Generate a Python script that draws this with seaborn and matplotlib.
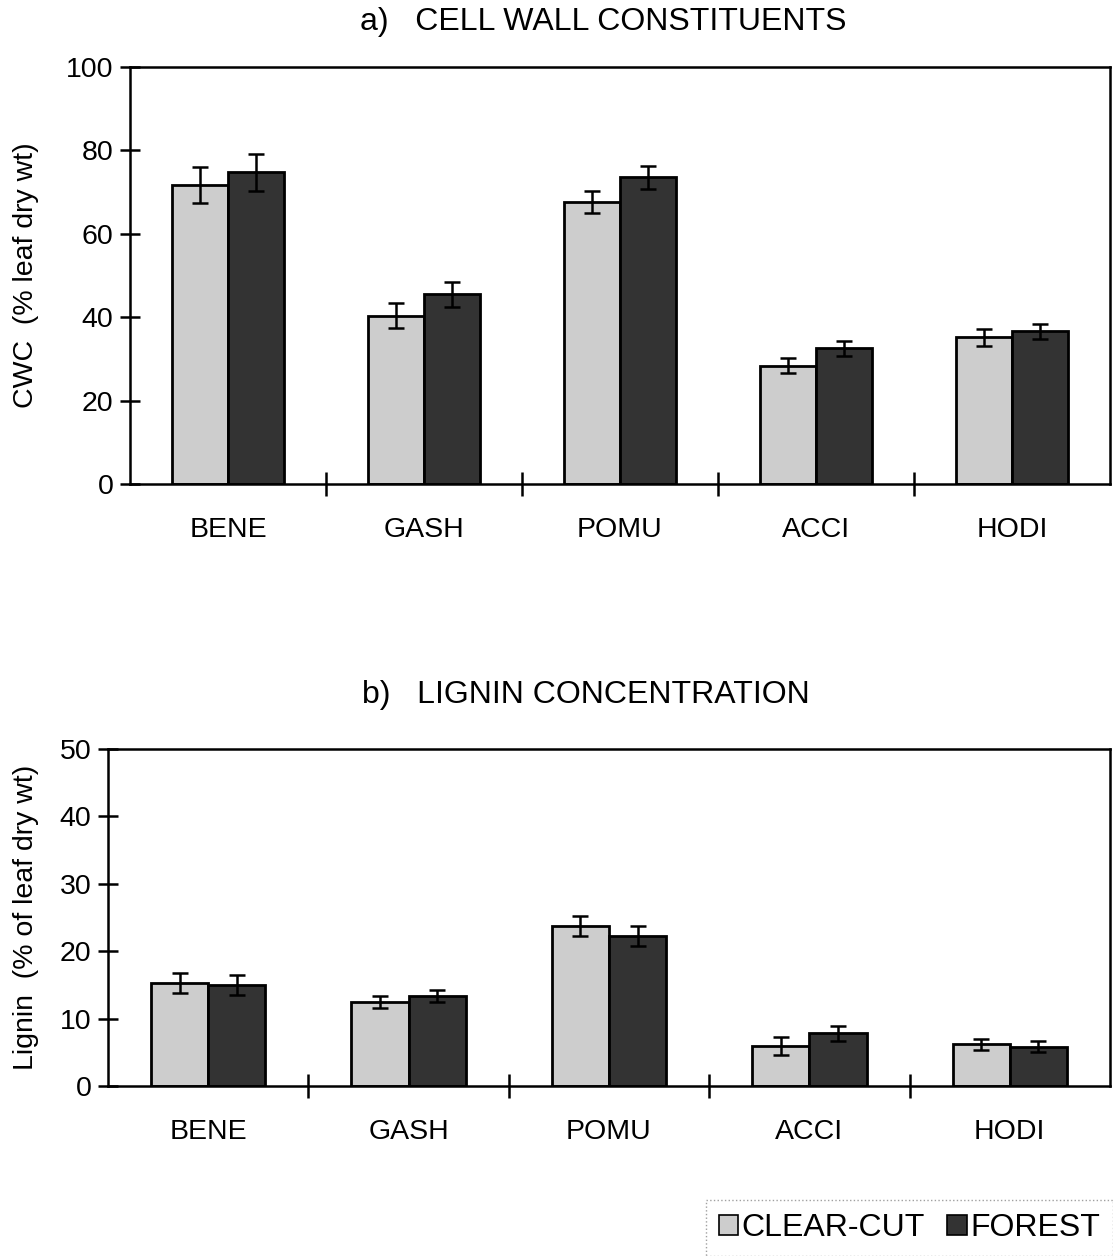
import numpy as np
import pandas as pd
import matplotlib
matplotlib.use("Agg")
import matplotlib.pyplot as plt
import seaborn as sns

# species and treatments
species = ["BENE", "GASH", "POMU", "ACCI", "HODI"]
sites = ["CLEAR-CUT", "FOREST"]

# a) cell wall constituents (% leaf dry wt)
cwc_clear = [71.7, 40.3, 67.6, 28.4, 35.2]
cwc_forest = [74.7, 45.5, 73.5, 32.5, 36.6]
cwc_clear_err = [4.4, 3.0, 2.6, 1.8, 2.0]
cwc_forest_err = [4.4, 3.0, 2.8, 1.9, 1.8]

# b) lignin concentration (% of leaf dry wt)
lig_clear = [15.3, 12.4, 23.7, 5.9, 6.2]
lig_forest = [15.0, 13.3, 22.2, 7.8, 5.8]
lig_clear_err = [1.5, 0.9, 1.5, 1.3, 0.8]
lig_forest_err = [1.5, 0.9, 1.5, 1.1, 0.8]

sns.set_style("white")
plt.rcParams["font.family"] = ["Liberation Sans", "DejaVu Sans"]
plt.rcParams["text.color"] = "black"
plt.rcParams["axes.labelcolor"] = "black"
plt.rcParams["xtick.color"] = "black"
plt.rcParams["ytick.color"] = "black"

light = "#cdcdcd"
dark = "#333333"
fs = 20.5

fig = plt.figure(figsize=(11.13, 12.56), dpi=100)


def panel(rect, clear, forest, clear_err, forest_err, ylim, ystep, ylabel, labx, show_legend=False):
    ax = fig.add_axes(rect)
    df = pd.DataFrame({
        "species": species * 2,
        "site": [sites[0]] * 5 + [sites[1]] * 5,
        "value": clear + forest,
    })
    sns.barplot(data=df, x="species", y="value", hue="site", order=species,
                hue_order=sites, palette=[light, dark], edgecolor="black",
                linewidth=2, width=0.57, errorbar=None, legend=show_legend, ax=ax)
    # error bars from the drawn bars
    for cont, errs in zip(ax.containers, [clear_err, forest_err]):
        xs = [b.get_x() + b.get_width() / 2 for b in cont]
        hs = [b.get_height() for b in cont]
        ax.errorbar(xs, hs, yerr=errs, fmt="none", ecolor="black",
                    elinewidth=1.8, capsize=5.5, capthick=1.8, zorder=5)
    ax.set_xlim(-0.5, 4.5)
    ax.set_ylim(*ylim)
    ax.set_yticks(np.arange(ylim[0], ylim[1] + 0.1, ystep))
    ax.set_xticks(range(5))
    ax.set_xticklabels(species)
    ax.set_xticks([0.5, 1.5, 2.5, 3.5], minor=True)
    ax.tick_params(axis="x", which="major", bottom=True, length=0, pad=24, labelsize=fs)
    ax.tick_params(axis="x", which="minor", bottom=True, direction="inout", length=17, width=1.8)
    ax.tick_params(axis="y", left=True, direction="inout", length=14, width=1.8, pad=5, labelsize=fs)
    ax.set_xlabel("")
    ax.set_ylabel(ylabel, fontsize=fs)
    ax.yaxis.set_label_coords(labx, 0.5)
    for sp in ax.spines.values():
        sp.set_visible(True)
        sp.set_color("black")
        sp.set_linewidth(1.8)
    return ax


ax1 = panel([0.1168, 0.6146, 0.8805, 0.3321], cwc_clear, cwc_forest,
            cwc_clear_err, cwc_forest_err, (0, 100), 20, "CWC  (% leaf dry wt)", -0.093)
ax2 = panel([0.0970, 0.1354, 0.9003, 0.2683], lig_clear, lig_forest,
            lig_clear_err, lig_forest_err, (0, 50), 10, "Lignin  (% of leaf dry wt)", -0.069,
            show_legend=True)

fig.text(603 / 1113, 1 - 22 / 1256, "a)   CELL WALL CONSTITUENTS", ha="center", va="center", fontsize=23)
fig.text(586 / 1113, 1 - 695 / 1256, "b)   LIGNIN CONCENTRATION", ha="center", va="center", fontsize=23)

handles, labels = ax2.get_legend_handles_labels()
ax2.get_legend().remove()
leg = fig.legend(handles, labels, loc="lower right", bbox_to_anchor=(1.0, 0.0),
                 ncol=2, fontsize=23, frameon=True, fancybox=False,
                 handlelength=0.6, handleheight=0.6, handletextpad=0.12,
                 columnspacing=0.7, borderpad=0.4, borderaxespad=0)
for h in leg.legend_handles:
    h.set_linewidth(1.2)
leg.get_frame().set_edgecolor("#888888")
leg.get_frame().set_linestyle(":")
leg.get_frame().set_linewidth(1.0)

fig.savefig("out.png", dpi=100)
